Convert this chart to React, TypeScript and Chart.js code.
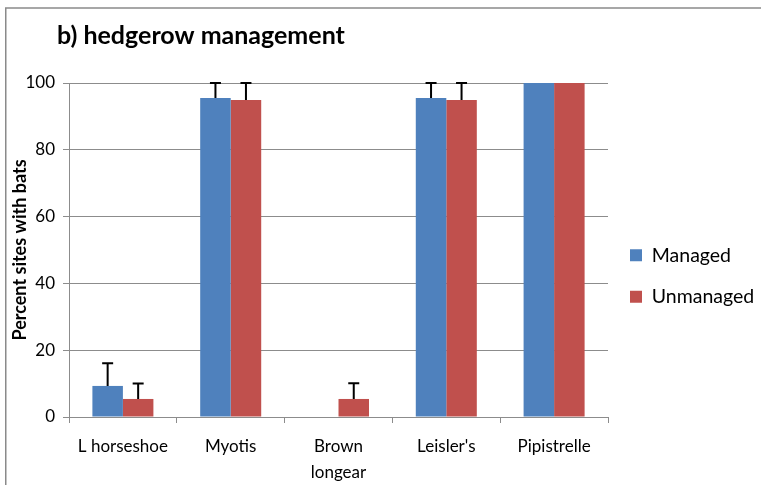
import React, { useEffect, useRef } from "react";
import { Chart, registerables } from "chart.js";

Chart.register(...registerables);

const categories: (string | string[])[] = ["L horseshoe", "Myotis", ["Brown", "longear"], "Leisler's", "Pipistrelle"];
const managed = [9.3, 95.5, 0, 95.5, 100];
const unmanaged = [5.4, 94.9, 5.4, 94.9, 100];
const managedErr = [6.8, 4.5, 0, 4.5, 0];
const unmanagedErr = [4.6, 5.1, 4.7, 5.1, 0];
const yTicks = [0, 20, 40, 60, 80, 100];

const FONT = "Lato, 'Open Sans', sans-serif";
const GRID = "#8c8c8c";

const errorBarPlugin = {
  id: "errorBars",
  afterDatasetsDraw(chart: any) {
    const errs = [managedErr, unmanagedErr];
    const vals = [managed, unmanaged];
    const yScale = chart.scales.y;
    const ctx = chart.ctx;
    ctx.save();
    ctx.strokeStyle = "#000";
    ctx.lineWidth = 2;
    chart.data.datasets.forEach((_: any, i: number) => {
      const meta = chart.getDatasetMeta(i);
      meta.data.forEach((bar: any, j: number) => {
        const e = errs[i][j];
        if (!e) return;
        const top = yScale.getPixelForValue(vals[i][j] + e);
        ctx.beginPath();
        ctx.moveTo(bar.x, bar.y);
        ctx.lineTo(bar.x, top);
        ctx.moveTo(bar.x - 5.5, top);
        ctx.lineTo(bar.x + 5.5, top);
        ctx.stroke();
      });
    });
    ctx.restore();
  },
};

const framePlugin = {
  id: "frame",
  beforeDraw(chart: any) {
    const ctx = chart.ctx;
    ctx.save();
    ctx.fillStyle = "#fff";
    ctx.fillRect(0, 0, chart.width, chart.height);
    ctx.strokeStyle = "#8a8a8a";
    ctx.lineWidth = 1.5;
    ctx.beginPath();
    ctx.moveTo(5.75, chart.height + 5);
    ctx.lineTo(5.75, 8);
    ctx.lineTo(chart.width + 5, 8);
    ctx.stroke();
    ctx.restore();
  },
  afterLayout(chart: any) {
    const tb = chart.titleBlock;
    if (tb) {
      const w = tb.right - tb.left;
      tb.left = 57;
      tb.right = 57 + w;
    }
  },
};

export default function App() {
  const ref = useRef<HTMLCanvasElement>(null);
  useEffect(() => {
    if (!ref.current) return;
    const chart = new Chart(ref.current, {
      type: "bar",
      data: {
        labels: categories,
        datasets: [
          { label: "Managed", data: managed, backgroundColor: "#4F81BD", categoryPercentage: 0.566, barPercentage: 1 },
          { label: "Unmanaged", data: unmanaged, backgroundColor: "#C0504D", categoryPercentage: 0.566, barPercentage: 1 },
        ],
      },
      options: {
        responsive: false,
        animation: false,
        layout: { padding: { left: 9, right: 0, top: 0, bottom: 0 } },
        plugins: {
          tooltip: { enabled: false },
          title: {
            display: true,
            text: "b) hedgerow management",
            align: "start",
            color: "#000",
            font: { family: FONT, size: 25, weight: "bold" },
            padding: { top: 21, bottom: 32 },
          },
          legend: {
            position: "right",
            fullSize: false,
            maxWidth: 153,
            title: { display: true, text: " ", color: "rgba(0,0,0,0)", font: { size: 12 }, padding: 18.8 },
            labels: {
              boxWidth: 12,
              boxHeight: 12,
              padding: 22,
              color: "#000",
              font: { family: FONT, size: 19.5 },
            },
          },
        },
        scales: {
          x: {
            grid: { display: true, offset: true, drawOnChartArea: false, drawTicks: true, tickLength: 6, color: GRID },
            border: { color: GRID, width: 1 },
            ticks: { color: "#000", font: { family: FONT, size: 17, lineHeight: 1.5 }, padding: 11, maxRotation: 0 },
            afterFit(s: any) { s.height = 68; },
          },
          y: {
            min: 0,
            max: 100,
            afterBuildTicks(s: any) { s.ticks = yTicks.map((v) => ({ value: v })); },
            grid: { color: GRID, tickLength: 6, lineWidth: 1 },
            border: { color: GRID, width: 1 },
            ticks: { color: "#000", font: { family: FONT, size: 17 }, padding: 8 },
            title: {
              display: true,
              text: "Percent sites with bats",
              color: "#000",
              font: { family: FONT, size: 18, weight: "bold" },
              padding: 0,
            },
            afterFit(s: any) { s.width = 60; },
          },
        },
      },
      plugins: [framePlugin, errorBarPlugin],
    });
    return () => chart.destroy();
  }, []);
  return (
    <div style={{ position: "fixed", left: 0, top: 0, width: 761, height: 485 }}>
      <canvas ref={ref} width={761} height={485} />
    </div>
  );
}
